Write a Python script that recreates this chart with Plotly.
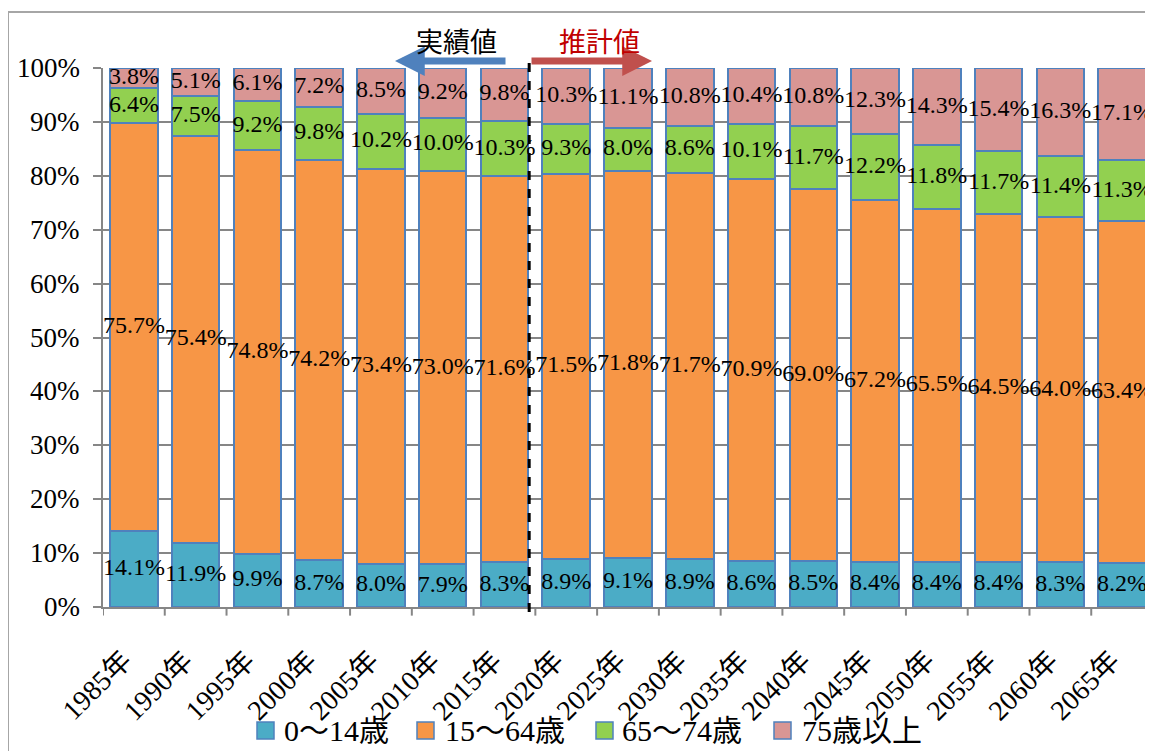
import plotly.graph_objects as go
import numpy as np

years = ["1985年", "1990年", "1995年", "2000年", "2005年", "2010年", "2015年", "2020年", "2025年",
         "2030年", "2035年", "2040年", "2045年", "2050年", "2055年", "2060年", "2065年"]
age_0_14 = [14.1, 11.9, 9.9, 8.7, 8.0, 7.9, 8.3, 8.9, 9.1, 8.9, 8.6, 8.5, 8.4, 8.4, 8.4, 8.3, 8.2]
age_15_64 = [75.7, 75.4, 74.8, 74.2, 73.4, 73.0, 71.6, 71.5, 71.8, 71.7, 70.9, 69.0, 67.2, 65.5, 64.5, 64.0, 63.4]
age_65_74 = [6.4, 7.5, 9.2, 9.8, 10.2, 10.0, 10.3, 9.3, 8.0, 8.6, 10.1, 11.7, 12.2, 11.8, 11.7, 11.4, 11.3]
age_75 = [3.8, 5.1, 6.1, 7.2, 8.5, 9.2, 9.8, 10.3, 11.1, 10.8, 10.4, 10.8, 12.3, 14.3, 15.4, 16.3, 17.1]

series_names = ["0〜14歳", "15〜64歳", "65〜74歳", "75歳以上"]
series_vals = [age_0_14, age_15_64, age_65_74, age_75]
colors = ["#4BACC6", "#F79646", "#92D050", "#D99694"]
y_ticks = list(range(0, 101, 10))
y_ticktext = [f"{v}%" for v in y_ticks]

SERIF = "Liberation Serif, Noto Sans CJK JP"
OUTLINE = "#4F81BD"

# page offset of the figure (body margin)
OFF = 8
L, T, PW, PH = 103 - OFF, 68 - OFF, 1050, 539


def px(xpage):
    return (xpage - OFF - L) / PW


def py(ypage):
    return (T + PH - (ypage - OFF)) / PH


fig = go.Figure()
xi = list(range(len(years)))
for name, vals, col in zip(series_names, series_vals, colors):
    fig.add_trace(go.Bar(x=xi, y=vals, name=name, marker=dict(color=col, line=dict(color=OUTLINE, width=2)),
                         width=0.77, hoverinfo="skip"))

# data labels, centred in each segment (normalized to 100%)
arr = np.array(series_vals, dtype=float)
norm = arr / arr.sum(axis=0) * 100
cum = np.cumsum(norm, axis=0)
for k in range(len(series_vals)):
    mid = cum[k] - norm[k] / 2
    fig.add_trace(go.Scatter(x=xi, y=mid, mode="text", text=[f"{v:.1f}%" for v in series_vals[k]],
                             textfont=dict(family=SERIF, size=24, color="black"), showlegend=False,
                             hoverinfo="skip", cliponaxis=False))

fig.update_layout(
    barmode="stack", barnorm="percent",
    width=1153, height=751,
    margin=dict(l=L, r=1153 - L - PW, t=T, b=751 - T - PH, autoexpand=False),
    plot_bgcolor="white", paper_bgcolor="white",
    font=dict(family=SERIF, size=26, color="black"),
    showlegend=False,
    xaxis=dict(type="linear", range=[-0.5, 16.5], showticklabels=False, showgrid=False, showline=True,
               linecolor="#868686", linewidth=2, ticks="", zeroline=False, automargin=False),
    yaxis=dict(range=[0, 100], tickmode="array", tickvals=y_ticks, showticklabels=False,
               showgrid=True, gridcolor="#868686", gridwidth=1.5, showline=True, linecolor="#868686",
               linewidth=2, ticks="outside", ticklen=8, tickcolor="#868686", tickwidth=2,
               zeroline=False, automargin=False),
)

shapes = []
# x-axis boundary ticks
for b in range(len(years) + 1):
    xb = b - 0.5
    shapes.append(dict(type="line", xref="x", yref="paper", x0=xb, x1=xb, y0=0, y1=-0.016,
                       line=dict(color="#868686", width=2)))
# dashed divider
shapes.append(dict(type="line", xref="x", yref="paper", x0=6.40, x1=6.40, y0=py(612), y1=py(55),
                   line=dict(color="black", width=3, dash="dash")))
# outer frame
shapes.append(dict(type="line", xref="paper", yref="paper", x0=px(8), x1=1.05,
                   y0=py(12), y1=py(12), line=dict(color="#A6A6A6", width=2)))
shapes.append(dict(type="line", xref="paper", yref="paper", x0=px(8), x1=px(8),
                   y0=py(12), y1=-0.4, line=dict(color="#A6A6A6", width=2)))

ann = []
# y tick labels
for v, t in zip(y_ticks, y_ticktext):
    ann.append(dict(xref="paper", yref="y", x=px(82), y=v, text=t, showarrow=False,
                    xanchor="right", yanchor="middle", font=dict(family=SERIF, size=27, color="black")))
# x tick labels (rotated)
for i, t in zip(xi, years):
    ann.append(dict(xref="x", yref="paper", x=i + 0.1, y=py(642), text=t, showarrow=False,
                    textangle=-45, xanchor="right", yanchor="top",
                    font=dict(family=SERIF, size=28, color="black")))

# legend (manual)
leg_swatch_x = [257, 417, 596, 774]
leg_text_x = [282, 443, 620, 800]
for name, col, sx, tx in zip(series_names, colors, leg_swatch_x, leg_text_x):
    shapes.append(dict(type="rect", xref="paper", yref="paper", x0=px(sx), x1=px(sx + 17),
                       y0=py(739), y1=py(722), fillcolor=col, line=dict(color=OUTLINE, width=1.5)))
    ann.append(dict(xref="paper", yref="paper", x=px(tx), y=py(730), text=name, showarrow=False,
                    xanchor="left", yanchor="middle", font=dict(family=SERIF, size=30, color="black")))

# arrows and headings
ann.append(dict(xref="paper", yref="paper", x=px(395), y=py(61), ax=112, ay=0,
                axref="pixel", ayref="pixel", showarrow=True, arrowhead=2, arrowsize=0.85, arrowwidth=7,
                arrowcolor="#4F81BD", text=""))
ann.append(dict(xref="paper", yref="paper", x=px(652), y=py(61), ax=-122, ay=0,
                axref="pixel", ayref="pixel", showarrow=True, arrowhead=2, arrowsize=0.85, arrowwidth=7,
                arrowcolor="#C0504D", text=""))
ann.append(dict(xref="paper", yref="paper", x=px(456), y=py(41), text="実績値",
                showarrow=False, font=dict(family="Noto Sans CJK JP", size=27, color="black"),
                xanchor="center", yanchor="middle"))
ann.append(dict(xref="paper", yref="paper", x=px(599), y=py(41), text="推計値",
                showarrow=False, font=dict(family="Noto Sans CJK JP", size=27, color="#C00000"),
                xanchor="center", yanchor="middle"))

fig.update_layout(shapes=shapes, annotations=ann)

fig.write_html("out.html")
